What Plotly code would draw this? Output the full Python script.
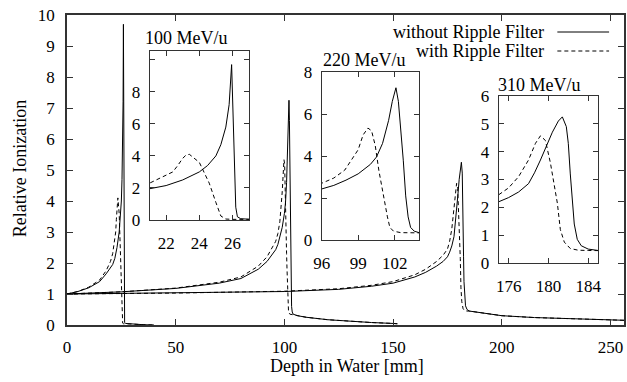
import plotly.graph_objects as go

# ---------------- data ----------------
# 100 MeV/u
d100_solid = [0, 5, 10, 15, 18, 20, 21, 22, 23, 24, 24.5, 25, 25.3, 25.6, 25.8, 25.95, 26.1, 26.2, 26.3, 26.5, 27, 30, 35, 40]
v100_solid = [1.0, 1.08, 1.2, 1.4, 1.65, 1.85, 1.95, 2.15, 2.5, 3.0, 3.4, 4.0, 4.7, 5.8, 7.2, 9.7, 5.0, 0.8, 0.2, 0.08, 0.05, 0.03, 0.01, 0.0]
d100_dash = [0, 5, 10, 15, 18, 20, 21, 21.6, 22.4, 22.7, 23.0, 23.2, 23.4, 24.0, 24.6, 25.0, 25.3, 25.6, 26, 27, 30, 35, 40]
v100_dash = [1.0, 1.08, 1.22, 1.45, 1.75, 2.05, 2.3, 2.6, 3.0, 3.4, 3.85, 4.05, 4.1, 3.6, 2.3, 1.1, 0.25, 0.06, 0.04, 0.04, 0.03, 0.01, 0.0]

# 220 MeV/u
d220_solid = [0, 25, 50, 70, 80, 88, 92, 96, 97, 98, 99, 100, 100.5, 101, 101.5, 101.8, 102.1, 102.3, 102.5, 102.7, 102.9, 103.1, 103.3, 103.6, 104, 106, 110, 120, 130, 140, 150, 152]
v220_solid = [1.0, 1.07, 1.18, 1.35, 1.5, 1.8, 2.05, 2.43, 2.6, 2.85, 3.15, 3.6, 3.95, 4.6, 5.7, 6.6, 7.25, 6.6, 5.3, 3.8, 2.1, 1.1, 0.6, 0.42, 0.35, 0.3, 0.25, 0.17, 0.12, 0.08, 0.05, 0.04]
d220_dash = [0, 25, 50, 70, 80, 88, 92, 96, 97, 97.9, 99, 99.4, 99.8, 100.1, 100.4, 100.7, 101.0, 101.2, 101.4, 101.6, 101.9, 102.5, 104, 106, 110, 120, 130, 140, 150, 152]
v220_dash = [1.0, 1.07, 1.19, 1.38, 1.55, 1.9, 2.2, 2.7, 2.95, 3.33, 4.3, 5.0, 5.33, 5.2, 4.5, 3.3, 2.3, 1.8, 1.1, 0.6, 0.42, 0.35, 0.33, 0.3, 0.25, 0.17, 0.12, 0.08, 0.05, 0.04]

# 310 MeV/u
d310_solid = [0, 50, 100, 125, 140, 150, 160, 165, 170, 173, 175, 176, 177, 178, 178.6, 179.2, 179.8, 180.4, 181, 181.4, 181.8, 182.0, 182.2, 182.4, 182.6, 182.9, 183.3, 184, 185, 190, 200, 215, 230, 245, 257]
v310_solid = [1.0, 1.03, 1.08, 1.15, 1.25, 1.35, 1.55, 1.7, 1.9, 2.05, 2.2, 2.35, 2.55, 2.85, 3.24, 3.7, 4.2, 4.7, 5.1, 5.25, 4.9, 4.3, 3.2, 2.2, 1.4, 0.85, 0.62, 0.5, 0.45, 0.4, 0.3, 0.24, 0.2, 0.17, 0.15]
d310_dash = [0, 50, 100, 125, 140, 150, 160, 165, 170, 173, 175, 176, 177, 178, 178.7, 179.2, 179.7, 180.2, 180.6, 180.9, 181.2, 181.6, 182.2, 183, 184, 185, 190, 200, 215, 230, 245, 257]
v310_dash = [1.0, 1.03, 1.09, 1.17, 1.28, 1.4, 1.62, 1.8, 2.05, 2.25, 2.45, 2.7, 3.1, 3.7, 4.3, 4.57, 4.4, 3.6, 2.8, 2.15, 1.2, 0.75, 0.52, 0.46, 0.45, 0.45, 0.4, 0.3, 0.24, 0.2, 0.17, 0.15]

main_xticks = [0, 50, 100, 150, 200, 250]
main_yticks = [0, 1, 2, 3, 4, 5, 6, 7, 8, 9, 10]
in1_xticks = [22, 24, 26]
in1_yticks = [0, 2, 4, 6, 8, 10]
in1_ylabels = ["0", "2", "4", "6", "8", ""]
in2_xticks = [96, 99, 102]
in2_yticks = [0, 2, 4, 6, 8]
in3_xticks = [176, 180, 184]
in3_yticks = [0, 1, 2, 3, 4, 5, 6]

titles = ["100 MeV/u", "220 MeV/u", "310 MeV/u"]
legend_labels = ["without Ripple Filter", "with Ripple Filter"]

# ---------------- figure ----------------
FONT = "Liberation Serif"
solid = dict(color="black", width=1)
dashed = dict(color="black", width=1, dash="4px,3px")

series = [(d100_solid, v100_solid, d100_dash, v100_dash),
          (d220_solid, v220_solid, d220_dash, v220_dash),
          (d310_solid, v310_solid, d310_dash, v310_dash)]

fig = go.Figure()
for ds, vs, dd, vd in series:
    fig.add_trace(go.Scatter(x=ds, y=vs, mode="lines", line=solid, showlegend=False, xaxis="x", yaxis="y"))
    fig.add_trace(go.Scatter(x=dd, y=vd, mode="lines", line=dashed, showlegend=False, xaxis="x", yaxis="y"))

for i, (ds, vs, dd, vd) in enumerate(series):
    xa = "x%d" % (i + 2)
    ya = "y%d" % (i + 2)
    fig.add_trace(go.Scatter(x=ds, y=vs, mode="lines", line=solid, showlegend=False, xaxis=xa, yaxis=ya))
    fig.add_trace(go.Scatter(x=dd, y=vd, mode="lines", line=dashed, showlegend=False, xaxis=xa, yaxis=ya))

axcommon = dict(showline=True, linecolor="#333333", ticks="inside", tickcolor="#333333",
                showgrid=False, zeroline=False, tickfont=dict(family=FONT, size=17, color="black"))

L, R, T, B = 67, 0, 15, 57
W, H = 627, 382
PW, PH = W - L - R, H - T - B

def fx(px):
    return (px - L) / PW

def fy(py):
    return (H - B - py) / PH

fig.update_layout(
    width=W, height=H,
    margin=dict(l=L, r=R, t=T, b=B),
    paper_bgcolor="white", plot_bgcolor="white",
    font=dict(family=FONT, size=17, color="black"),
    xaxis=dict(range=[0, 256.2], tickvals=main_xticks, mirror="ticks", ticklen=6,
               linewidth=1.5, ticklabelstandoff=6, **axcommon),
    yaxis=dict(range=[0, 10], tickvals=main_yticks, mirror="ticks", ticklen=6,
               linewidth=1.5, ticklabelstandoff=7, **axcommon),
    xaxis2=dict(domain=[fx(150), fx(250)], anchor="y2", range=[21, 27], tickvals=in1_xticks,
                mirror="ticks", ticklen=5, linewidth=1, ticklabelstandoff=8, **axcommon),
    yaxis2=dict(domain=[fy(220), fy(51)], anchor="x2", range=[0, 10.55], tickvals=in1_yticks,
                ticktext=in1_ylabels, mirror="ticks", ticklen=5, linewidth=1, ticklabelstandoff=5, **axcommon),
    xaxis3=dict(domain=[fx(323), fx(421)], anchor="y3", range=[96, 104], tickvals=in2_xticks,
                mirror="ticks", ticklen=5, linewidth=1, ticklabelstandoff=8, **axcommon),
    yaxis3=dict(domain=[fy(240), fy(72)], anchor="x3", range=[0, 8], tickvals=in2_yticks,
                mirror="ticks", ticklen=5, linewidth=1, ticklabelstandoff=5, **axcommon),
    xaxis4=dict(domain=[fx(501), fx(601)], anchor="y4", range=[175, 185], tickvals=in3_xticks,
                mirror="ticks", ticklen=5, linewidth=1, ticklabelstandoff=8, **axcommon),
    yaxis4=dict(domain=[fy(263), fy(96)], anchor="x4", range=[0, 6], tickvals=in3_yticks,
                mirror="ticks", ticklen=5, linewidth=1, ticklabelstandoff=5, **axcommon),
)

ann = []
ann.append(dict(text="Depth in Water [mm]", xref="paper", yref="paper", x=fx(349), y=fy(366),
                xanchor="center", yanchor="middle", showarrow=False, font=dict(size=18)))
ann.append(dict(text="Relative Ionization", xref="paper", yref="paper", x=fx(20), y=fy(169),
                xanchor="center", yanchor="middle", textangle=-90, showarrow=False, font=dict(size=18)))
for t, (px, py) in zip(titles, [(143, 38), (322, 60), (498, 85)]):
    ann.append(dict(text=t, xref="paper", yref="paper", x=fx(px), y=fy(py),
                    xanchor="left", yanchor="middle", showarrow=False, font=dict(size=18)))
shapes = []
for lab, py, ln in zip(legend_labels, [32, 51], [solid, dashed]):
    ann.append(dict(text=lab, xref="paper", yref="paper", x=fx(549), y=fy(py),
                    xanchor="right", yanchor="middle", showarrow=False, font=dict(size=18)))
    shapes.append(dict(type="line", xref="paper", yref="paper", x0=fx(560), x1=fx(612),
                       y0=fy(py), y1=fy(py), line=ln))
fig.update_layout(annotations=ann, shapes=shapes)

fig.write_html("out.html")
